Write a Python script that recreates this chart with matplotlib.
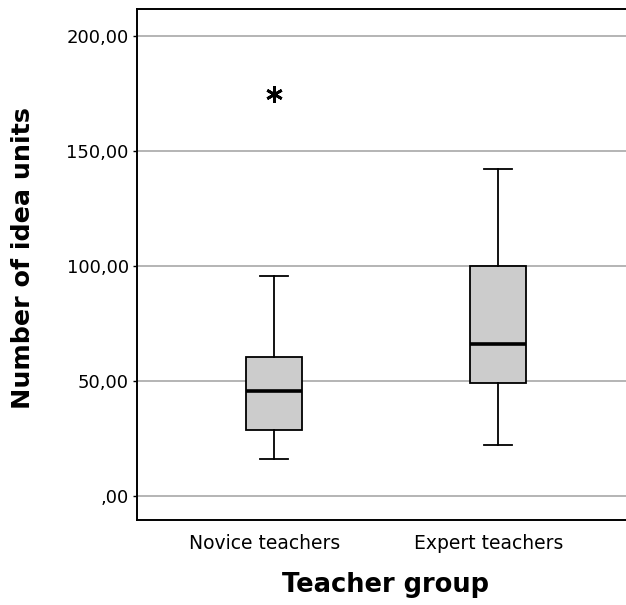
import matplotlib
matplotlib.use("Agg")
import matplotlib.pyplot as plt
from matplotlib.transforms import ScaledTranslation

# values
groups = ["Novice teachers", "Expert teachers"]
whislo = [16.0, 22.0]
q1 = [28.6, 49.1]
med = [45.5, 66.0]
q3 = [60.3, 100.0]
whishi = [95.5, 142.0]
fliers = [[174.7], []]
yticks = [0, 50, 100, 150, 200]
ytick_labels = [",00", "50,00", "100,00", "150,00", "200,00"]

fig = plt.figure(figsize=(6.26, 6.05), dpi=100)
ax = fig.add_axes([0.2188, 0.1405, 0.7812, 0.8445])

stats = []
for i in range(len(groups)):
    stats.append(dict(label=groups[i], whislo=whislo[i], q1=q1[i], med=med[i],
                      q3=q3[i], whishi=whishi[i], fliers=fliers[i]))

ax.bxp(stats, positions=[1, 2], widths=0.25, capwidths=0.125, patch_artist=True,
       boxprops=dict(facecolor="#cccccc", edgecolor="black", linewidth=1.3),
       medianprops=dict(color="black", linewidth=2.6),
       whiskerprops=dict(color="black", linewidth=1.3),
       capprops=dict(color="black", linewidth=1.3),
       flierprops=dict(marker=(6, 2, 0), markersize=12, markeredgewidth=2.0,
                       markeredgecolor="black"),
       zorder=3)

ax.set_ylim(-10.6, 211.6)
ax.set_xlim(0.388, 2.571)
ax.set_yticks(yticks)
ax.set_yticklabels(ytick_labels, fontsize=13)
ax.set_xticks([1, 2])
ax.set_xticklabels(groups, fontsize=13.5)
ax.tick_params(axis="x", length=0, pad=10)
ax.tick_params(axis="y", length=3, width=1, pad=3)
ax.grid(axis="y", color="#b4b4b4", linewidth=1.4, zorder=0)
ax.set_axisbelow(True)

# category labels sit a little left of the boxes in the original
shift = ScaledTranslation(-0.09, 0, fig.dpi_scale_trans)
for lab in ax.get_xticklabels():
    lab.set_transform(lab.get_transform() + shift)

for s in ["left", "top", "bottom"]:
    ax.spines[s].set_linewidth(1.4)
ax.spines["right"].set_visible(False)

ax.set_ylabel("Number of idea units", fontsize=18.3, fontweight="bold")
ax.yaxis.set_label_coords(-0.2086, 0.513)
ax.set_xlabel("Teacher group", fontsize=18.5, fontweight="bold", labelpad=13.5)
ax.xaxis.label.set_x(0.509)

fig.savefig("out.png", dpi=100)
